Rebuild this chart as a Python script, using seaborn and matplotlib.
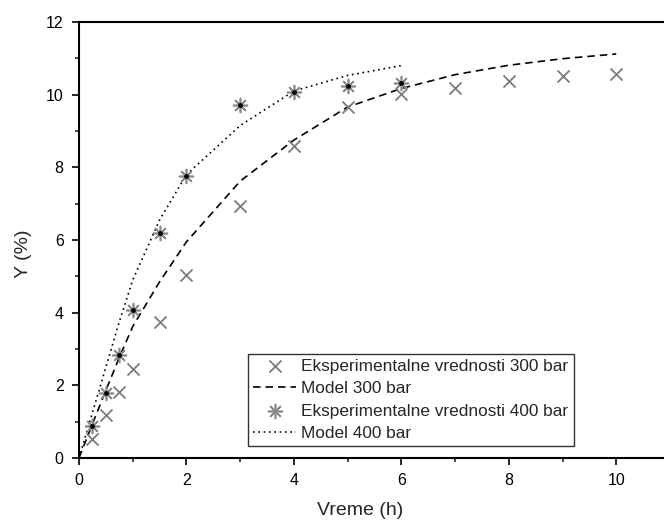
import numpy as np
import pandas as pd
import matplotlib
matplotlib.use("Agg")
import matplotlib.pyplot as plt
from matplotlib.ticker import MultipleLocator
import seaborn as sns

# Experimental yield, 300 bar
t_exp_300 = [0.25, 0.5, 0.75, 1, 1.5, 2, 3, 4, 5, 6, 7, 8, 9, 10]
y_exp_300 = [0.52, 1.17, 1.82, 2.45, 3.74, 5.04, 6.94, 8.59, 9.65, 10.03, 10.19, 10.37, 10.52, 10.56]

# Experimental yield, 400 bar
t_exp_400 = [0.25, 0.5, 0.75, 1, 1.5, 2, 3, 4, 5, 6]
y_exp_400 = [0.88, 1.78, 2.83, 4.07, 6.20, 7.76, 9.71, 10.07, 10.23, 10.33]

# Model curves
t_mod_300 = [0, 0.25, 0.5, 0.75, 1, 1.5, 2, 3, 4, 5, 6, 7, 8, 9, 10]
y_mod_300 = [0, 0.94, 1.86, 2.77, 3.62, 4.85, 5.95, 7.62, 8.75, 9.66, 10.17, 10.55, 10.81, 10.99, 11.12]
t_mod_400 = [0, 0.25, 0.5, 0.75, 1, 1.5, 2, 3, 4, 5, 6]
y_mod_400 = [0, 1.25, 2.50, 3.75, 4.90, 6.55, 7.80, 9.15, 10.10, 10.53, 10.80]

labels = ["Eksperimentalne vrednosti 300 bar", "Model 300 bar",
          "Eksperimentalne vrednosti 400 bar", "Model 400 bar"]
x_ticks = [0, 2, 4, 6, 8, 10]
y_ticks = [0, 2, 4, 6, 8, 10, 12]

sns.set_style("ticks")
plt.rcParams["font.family"] = ["Liberation Sans", "DejaVu Sans"]

fig = plt.figure(figsize=(6.64, 5.25), dpi=100)
ax = fig.add_axes([0.119, 0.1276, 0.89, 0.8305])

gray = "#7c7c7c"
sns.scatterplot(x=t_exp_300, y=y_exp_300, ax=ax, marker="x", s=75,
                color=gray, linewidth=1.3, label=labels[0], zorder=3)
sns.lineplot(x=t_mod_300, y=y_mod_300, ax=ax, color="black", linewidth=1.2,
             label=labels[1], zorder=2)
ax.lines[-1].set_dashes((4.5, 3))
sns.scatterplot(x=t_exp_400, y=y_exp_400, ax=ax, marker=(8, 2, 0), s=100,
                color="#8a8a8a", linewidth=1.2, label=labels[2], zorder=3)
ax.scatter(t_exp_400, y_exp_400, s=6, color="black", zorder=4, label="_nolegend_")
sns.lineplot(x=t_mod_400, y=y_mod_400, ax=ax, color="black", linewidth=1.2,
             label=labels[3], zorder=2)
ax.lines[-1].set_dashes((1, 2.2))

ax.set_xlim(0, 11)
ax.set_ylim(0, 12)
ax.set_xticks(x_ticks)
ax.set_yticks(y_ticks)
ax.xaxis.set_minor_locator(MultipleLocator(1))
ax.yaxis.set_minor_locator(MultipleLocator(1))
ax.tick_params(axis="both", which="major", direction="out", length=5, width=1.2,
               labelsize=11.5, pad=6, colors="black")
ax.tick_params(axis="both", which="minor", direction="out", length=3, width=1.2)
for side in ["left", "bottom", "top", "right"]:
    ax.spines[side].set_visible(True)
    ax.spines[side].set_linewidth(1.5)
    ax.spines[side].set_color("black")

ax.set_xlabel("Vreme (h)", fontsize=14)
ax.set_ylabel("Y (%)", fontsize=14)
ax.xaxis.set_label_coords(0.475, -0.1)
ax.yaxis.set_label_coords(-0.08, 0.468)

handles, labs = ax.get_legend_handles_labels()
order = [labs.index(l) for l in labels]
handles = [handles[i] for i in order]
leg = ax.legend(handles, labels, loc="lower left", bbox_to_anchor=(0.286, 0.0275),
                borderaxespad=0, frameon=True, fancybox=False, fontsize=12.4,
                handlelength=2.5, handletextpad=0.3, labelspacing=0.42,
                borderpad=0.3, framealpha=1)
leg.get_frame().set_edgecolor("#333333")
leg.get_frame().set_linewidth(1.0)

fig.savefig("out.png", dpi=100)
